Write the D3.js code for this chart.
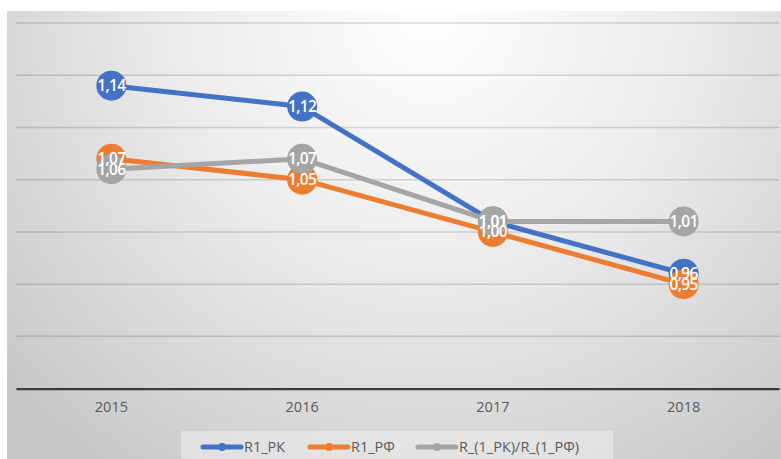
<!DOCTYPE html>
<html>
<head>
<meta charset="utf-8">
<script src="https://cdn.jsdelivr.net/npm/d3@7"></script>
<style>
  html, body { margin: 0; padding: 0; background: #ffffff; }
  svg { display: block; }
</style>
</head>
<body>
<svg id="chart" width="781" height="459"></svg>
<script>
const categories = ["2015", "2016", "2017", "2018"];
const seriesNames = ["R1_РК", "R1_РФ", "R_(1_РК)/R_(1_РФ)"];
const seriesColors = ["#4472C4", "#ED7D31", "#A5A5A5"];
const r1RK = [1.14, 1.12, 1.01, 0.96];
const r1RF = [1.07, 1.05, 1.00, 0.95];
const ratio = [1.06, 1.07, 1.01, 1.01];
const yTicks = [0.85, 0.90, 0.95, 1.00, 1.05, 1.10, 1.15, 1.20];

const seriesValues = [r1RK, r1RF, ratio];
const W = 781, H = 459;
const svg = d3.select("#chart");
const defs = svg.append("defs");

const grad = defs.append("radialGradient")
  .attr("id", "bg").attr("gradientUnits", "userSpaceOnUse")
  .attr("cx", 430).attr("cy", 11).attr("r", 560);
grad.append("stop").attr("offset", "0").attr("stop-color", "#ffffff");
grad.append("stop").attr("offset", "0.45").attr("stop-color", "#ececec");
grad.append("stop").attr("offset", "1").attr("stop-color", "#c8c8c8");

svg.append("rect").attr("x", 7).attr("y", 11).attr("width", W - 7).attr("height", H - 11)
  .attr("fill", "url(#bg)");

const plot = { left: 16, right: 779, top: 23, bottom: 388.6 };
const x = d3.scaleBand().domain(categories).range([plot.left, plot.right]);
const y = d3.scaleLinear().domain([0.85, 1.20]).range([plot.bottom, plot.top]);

// gridlines
svg.append("g").selectAll("line").data(yTicks.filter(t => t > 0.85)).join("line")
  .attr("x1", plot.left).attr("x2", plot.right)
  .attr("y1", d => y(d)).attr("y2", d => y(d))
  .attr("stroke", "#000").attr("stroke-opacity", 0.14).attr("stroke-width", 1.5);

// x axis
const xAxis = svg.append("g").attr("transform", `translate(0,${y(0.85)})`)
  .call(d3.axisBottom(x).tickSize(0).tickPadding(13));
xAxis.select(".domain").attr("stroke", "#3a3a3a").attr("stroke-width", 2.2);
xAxis.selectAll("text").attr("font-family", "'Open Sans', sans-serif")
  .attr("font-size", 14.5).attr("fill", "#595959");

const cx = d => x(d) + x.bandwidth() / 2;
const line = d3.line().x((d, i) => cx(categories[i])).y(d => y(d));

seriesValues.forEach((vals, s) => {
  svg.append("path").datum(vals).attr("d", line)
    .attr("fill", "none").attr("stroke", seriesColors[s]).attr("stroke-width", 5)
    .attr("stroke-linejoin", "round");
  svg.append("g").selectAll("circle").data(vals).join("circle")
    .attr("cx", (d, i) => cx(categories[i])).attr("cy", d => y(d)).attr("r", 15)
    .attr("fill", seriesColors[s]);
});

const fmt = v => d3.format(".2f")(v).replace(".", ",");
seriesValues.forEach((vals, s) => {
  svg.append("g").selectAll("text").data(vals).join("text")
    .attr("x", (d, i) => cx(categories[i])).attr("y", d => y(d))
    .attr("dy", "0.36em").attr("text-anchor", "middle")
    .attr("font-family", "'Open Sans', sans-serif").attr("font-size", 15.5)
    .attr("font-weight", 600).attr("letter-spacing", -0.6)
    .attr("fill", "#ffffff").text(d => fmt(d));
});

// legend
const lg = svg.append("g");
lg.append("rect").attr("x", 181).attr("y", 431).attr("width", 432).attr("height", 30)
  .attr("fill", "#ffffff").attr("fill-opacity", 0.35);
const legX = [203, 310, 418];
seriesNames.forEach((n, s) => {
  const g = lg.append("g").attr("transform", `translate(${legX[s]},447)`);
  g.append("line").attr("x1", 0).attr("x2", 38).attr("y1", 0).attr("y2", 0)
    .attr("stroke", seriesColors[s]).attr("stroke-width", 5).attr("stroke-linecap", "round");
  g.append("circle").attr("cx", 19).attr("cy", 0).attr("r", 4).attr("fill", seriesColors[s]);
  g.append("text").attr("x", 41).attr("y", 0).attr("dy", "0.36em")
    .attr("font-family", "'Open Sans', sans-serif").attr("font-size", 14.5)
    .attr("fill", "#595959").text(n);
});
</script>
</body>
</html>
